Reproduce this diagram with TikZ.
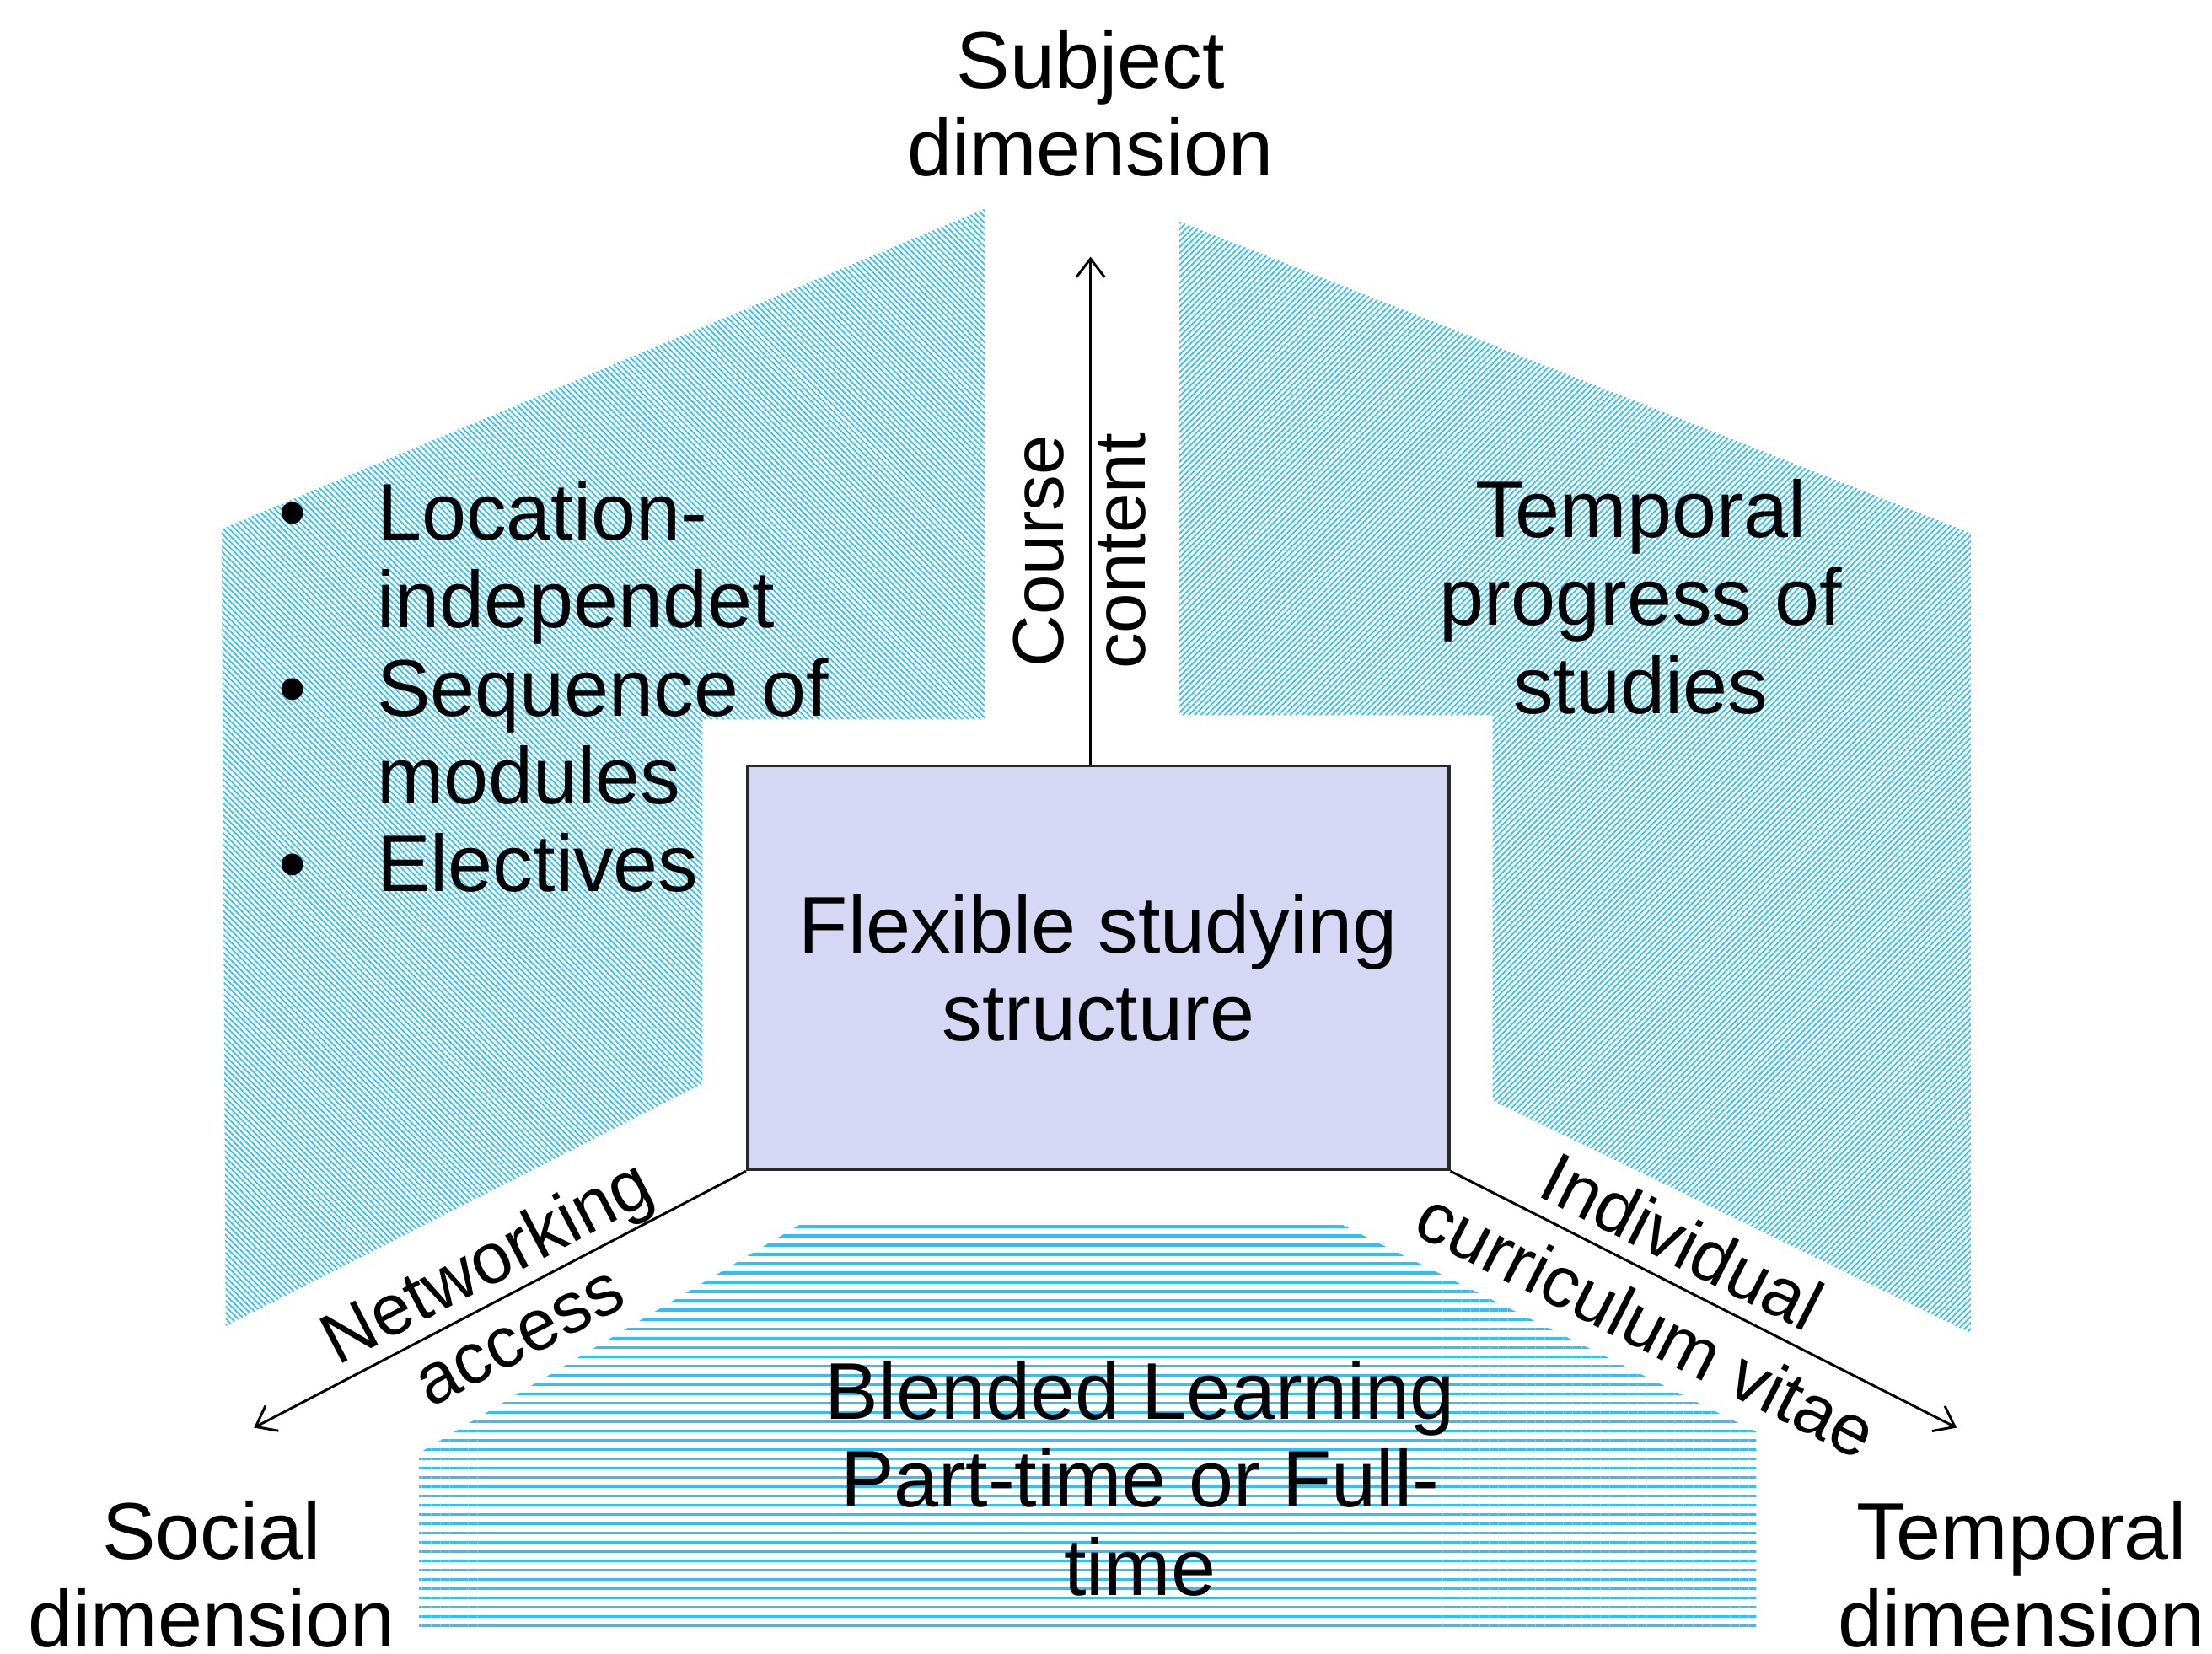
\documentclass[tikz,border=0pt]{standalone}
\usepackage{fontspec}
\setmainfont{Liberation Sans}
\usetikzlibrary{patterns.meta,arrows.meta}
\definecolor{hatchblue}{RGB}{45,192,252}
\definecolor{boxfill}{RGB}{214,214,245}
\definecolor{boxline}{RGB}{40,40,40}
\tikzset{
	lbl/.style={align=center, inner sep=1pt, font=\fontsize{16.2}{17.7}\selectfont},
	axislbl/.style={align=center, inner sep=3pt, font=\fontsize{14.5}{16.5}\selectfont},
	axis/.style={-{Straight Barb[length=1.3mm,width=2mm]}, line width=0.5pt},
	hatchleft/.style={pattern={Lines[angle=-45,distance=0.85pt,line width=0.3pt]}, pattern color=hatchblue},
	hatchright/.style={pattern={Lines[angle=45,distance=0.85pt,line width=0.3pt]}, pattern color=hatchblue},
	hatchflat/.style={pattern={Lines[angle=0,distance=1.87pt,line width=0.55pt]}, pattern color=hatchblue}
}

\begin{document}
\begin{tikzpicture}[x=0.01cm, y=-0.01cm]
		\useasboundingbox (0,0) rectangle (1568,1172);
		\fill[white] (0,0) rectangle (1568,1172);
		
		\fill[hatchleft] (157,375) -- (698,148) -- (698,510) -- (498,510) -- (498,768) -- (160,940) -- cycle;
		\fill[hatchright] (836,157) -- (1397,378) -- (1397,945) -- (1058,780) -- (1058,507) -- (836,507) -- cycle;
		\fill[hatchflat] (567,868) -- (947,866) -- (1245,1015) -- (1245,1155) -- (297,1155) -- (297,1030) -- cycle;
		
		\node[draw=boxline, line width=0.6pt, fill=boxfill, minimum width=4.97cm, minimum height=2.86cm, lbl] (box) at (778.5,686) {Flexible studying\\structure};
		
		\coordinate (subjtip) at (773,182);
		\coordinate (soctip) at (180,1012);
		\coordinate (temptip) at (1387,1012);
		
		\draw[axis] (box.north -| subjtip) -- node[axislbl, inner sep=1pt, pos=0.42, xshift=-0.08cm, rotate=90] (course) {Course\\content} (subjtip);
		\draw[axis] (box.south west) -- node[axislbl, pos=0.49, sloped, above, inner sep=0pt] (netw) {Networking} node[axislbl, pos=0.50, sloped, below, inner sep=5pt] (acc) {access} (soctip);
		\draw[axis] (box.south east) -- node[axislbl, pos=0.42, sloped, above] (indiv) {Individual} node[axislbl, pos=0.43, sloped, below, inner sep=4pt] (cv) {curriculum vitae} (temptip);
		
		\node[lbl] (subject) at (773,73) {Subject\\dimension};
		\node[lbl] (social) at (150,1116) {Social\\dimension};
		\node[lbl] (temporal) at (1433,1116) {Temporal\\dimension};
		
		\node[lbl, align=left, anchor=west] (flexlist) at (193,487) {\makebox[0.70cm][l]{\textbullet}Location-\\\hspace*{0.70cm}independet\\\makebox[0.70cm][l]{\textbullet}Sequence of\\\hspace*{0.70cm}modules\\\makebox[0.70cm][l]{\textbullet}Electives};
		\node[lbl] (progress) at (1163,423) {Temporal\\progress of\\studies};
		\node[lbl] (blended) at (808,1048) {Blended Learning\\Part-time or Full-\\time};
	
	\end{tikzpicture}
\end{document}
